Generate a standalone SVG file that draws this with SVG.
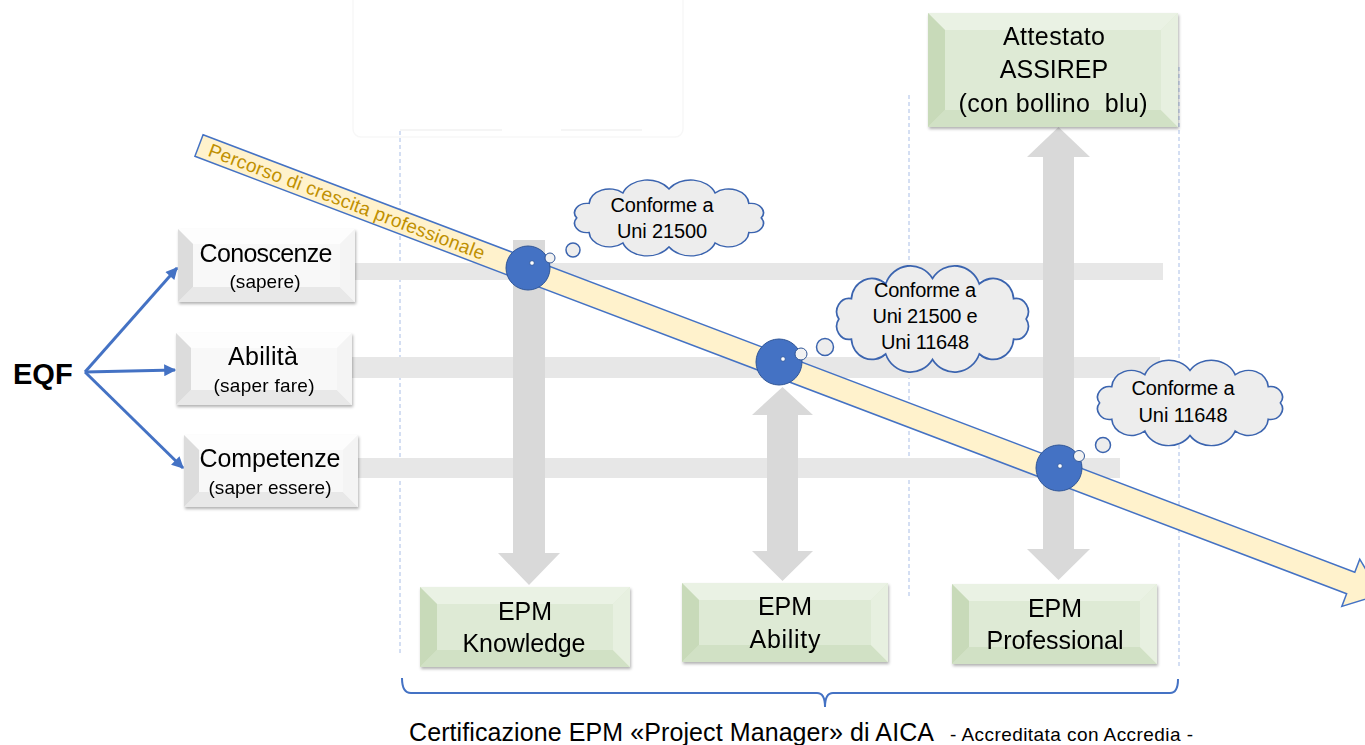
<svg xmlns="http://www.w3.org/2000/svg" width="1365" height="745" viewBox="0 0 1365 745">
<style>
text{font-family:"Liberation Sans",Arial,sans-serif;fill:#000}
.lbl{font-size:25px;text-anchor:middle}
.sub{font-size:19px;text-anchor:middle}
.cl{font-size:20px;text-anchor:middle}
.bar{fill:#E7E7E7}
.varr{fill:#D9D9D9}
.dash{stroke:#A9BEE6;stroke-width:1;stroke-dasharray:4 3;fill:none}
.gi{fill:#DEEAD5}.gt{fill:#EAF2E4}.gl{fill:#C8DAB9}.gr{fill:#E7F0E0}.gb{fill:#D1E1C5}
.wi{fill:#F8F8F8}.wt{fill:#FDFDFD}.wl{fill:#DCDCDC}.wr{fill:#F4F4F4}.wb{fill:#E8E8E8}
.cloud{fill:#EDEDED;stroke:#3B64AF;stroke-width:1.5;vector-effect:non-scaling-stroke}
.bub{fill:#EDEDED;stroke:#3B64AF;stroke-width:1.5}
.big{fill:#4472C4;stroke:#2F5597;stroke-width:1}
.sm{fill:#F2F2F2;stroke:#2F5597;stroke-width:1}
.blue{stroke:#4472C4;stroke-width:3;fill:none}
</style>
<defs>
<filter id="sh" x="-10%" y="-10%" width="125%" height="140%">
<feDropShadow dx="1" dy="2" stdDeviation="1.5" flood-color="#000" flood-opacity="0.3"/>
</filter>
<marker id="ah" viewBox="0 0 10 10" refX="9" refY="5" markerWidth="14" markerHeight="12" markerUnits="userSpaceOnUse" orient="auto">
<path d="M0,0 L10,5 L0,10 Z" fill="#4472C4"/>
</marker>
<path id="cloudShape" d="M182,50 A11,11 0 0 1 171,67 A18,18 0 0 1 141,79.4 A23,23 0 0 1 100,84 A23,23 0 0 1 59,79.4 A18,18 0 0 1 29,67 A11,11 0 0 1 18,50 A11,11 0 0 1 29,33 A18,18 0 0 1 59,20.6 A23,23 0 0 1 100,16 A23,23 0 0 1 141,20.6 A18,18 0 0 1 171,33 A11,11 0 0 1 182,50 Z"/>
</defs>

<rect width="1365" height="745" fill="#FFFFFF"/>

<!-- faint remnants at top -->
<g id="faint">
<rect x="353" y="-10" width="330" height="147" rx="8" fill="none" stroke="#F7F7F7" stroke-width="1.5"/>
<line x1="400" y1="130" x2="502" y2="130" stroke="#F2F2F2" stroke-width="1.5"/>
<line x1="561" y1="130" x2="642" y2="130" stroke="#F2F2F2" stroke-width="1.5"/>
</g>

<!-- dashed separators -->
<g id="separators">
<line class="dash" x1="400" y1="131" x2="400" y2="655"/>
<line class="dash" x1="909" y1="95" x2="909" y2="596"/>
<line class="dash" x1="1179" y1="67" x2="1179" y2="667"/>
</g>

<!-- horizontal bars -->
<g id="bars">
<rect class="bar" x="345" y="263" width="818" height="17"/>
<rect class="bar" x="345" y="357" width="815" height="21"/>
<rect class="bar" x="350" y="458" width="770" height="20"/>
</g>

<!-- vertical arrows -->
<g id="vertical-arrows">
<polygon class="varr" points="513,240 545,240 545,553 560,553 529,585 498,553 513,553"/>
<polygon class="varr" points="782.5,387 813,415 798,415 798,551 813,551 782.5,581 752,551 767,551 767,415 752,415"/>
<polygon class="varr" points="1058.5,127 1090,157 1074,157 1074,549 1090,549 1058.5,580 1027,549 1043,549 1043,157 1027,157"/>
</g>

<!-- connectors from EQF -->
<g id="connectors">
<line class="blue" x1="85" y1="372" x2="177" y2="268" marker-end="url(#ah)"/>
<line class="blue" x1="85" y1="372" x2="175" y2="370" marker-end="url(#ah)"/>
<line class="blue" x1="85" y1="372" x2="183" y2="468" marker-end="url(#ah)"/>
</g>

<g id="eqf"><text x="13" y="384" style="font-size:29px;font-weight:bold">EQF</text></g>

<!-- left white bevel boxes -->
<g id="conoscenze" filter="url(#sh)">
<rect class="wi" x="178" y="229" width="177" height="73"/>
<polygon class="wt" points="178,229 355,229 340,244 193,244"/>
<polygon class="wb" points="178,302 355,302 340,287 193,287"/>
<polygon class="wl" points="178,229 193,244 193,287 178,302"/>
<polygon class="wr" points="355,229 340,244 340,287 355,302"/>
<text class="lbl" x="266" y="262" textLength="133">Conoscenze</text>
<text class="sub" x="265" y="288" textLength="71">(sapere)</text>
</g>
<g id="abilita" filter="url(#sh)">
<rect class="wi" x="176" y="333" width="176" height="72"/>
<polygon class="wt" points="176,333 352,333 337,348 191,348"/>
<polygon class="wb" points="176,405 352,405 337,390 191,390"/>
<polygon class="wl" points="176,333 191,348 191,390 176,405"/>
<polygon class="wr" points="352,333 337,348 337,390 352,405"/>
<text class="lbl" x="263" y="365" textLength="70">Abilità</text>
<text class="sub" x="264" y="392" textLength="101">(saper fare)</text>
</g>
<g id="competenze" filter="url(#sh)">
<rect class="wi" x="184" y="435" width="174" height="72"/>
<polygon class="wt" points="184,435 358,435 343,450 199,450"/>
<polygon class="wb" points="184,507 358,507 343,492 199,492"/>
<polygon class="wl" points="184,435 199,450 199,492 184,507"/>
<polygon class="wr" points="358,435 343,450 343,492 358,507"/>
<text class="lbl" x="270" y="467" textLength="141">Competenze</text>
<text class="sub" x="270" y="494" textLength="123">(saper essere)</text>
</g>

<!-- diagonal growth path -->
<g id="percorso" transform="translate(199,145.5) rotate(20.8)">
<polygon points="0,-11.5 1232,-11.5 1232,-25.5 1264,0 1232,25 1232,11.5 0,11.5" fill="#FFF2CC" stroke="#4472C4" stroke-width="1.5" stroke-linejoin="miter"/>
<text x="11" y="6.5" textLength="294" style="font-size:19px;fill:#BF9000">Percorso di crescita professionale</text>
</g>

<!-- milestone circles -->
<g id="milestone1">
<circle class="big" cx="528" cy="268" r="22"/>
<circle cx="532" cy="263" r="2.3" fill="#FFFFFF" stroke="#2F5597" stroke-width="0.8"/>
<circle class="sm" cx="550" cy="258" r="5"/>
</g>
<g id="milestone2">
<circle class="big" cx="779" cy="362" r="23"/>
<circle cx="783" cy="359" r="2.3" fill="#FFFFFF" stroke="#2F5597" stroke-width="0.8"/>
<circle class="sm" cx="801" cy="354" r="6"/>
</g>
<g id="milestone3">
<circle class="big" cx="1059" cy="468" r="23"/>
<circle cx="1060" cy="466" r="2.3" fill="#FFFFFF" stroke="#2F5597" stroke-width="0.8"/>
<circle class="sm" cx="1079" cy="456" r="5.5"/>
</g>

<!-- clouds -->
<g id="cloud1">
<circle class="bub" cx="573" cy="250" r="7"/>
<use href="#cloudShape" class="cloud" transform="translate(556.5,175.4) scale(1.125,0.851)"/>
<text class="cl" x="662" y="212" textLength="103">Conforme a</text>
<text class="cl" x="662" y="238" textLength="90">Uni 21500</text>
</g>
<g id="cloud2">
<circle class="bub" cx="825" cy="347" r="8.5"/>
<use href="#cloudShape" class="cloud" transform="translate(818.3,259.4) scale(1.142,1.191)"/>
<text class="cl" x="925" y="297" textLength="102">Conforme a</text>
<text class="cl" x="925" y="323" textLength="105">Uni 21500 e</text>
<text class="cl" x="925" y="349" textLength="88">Uni 11648</text>
</g>
<g id="cloud3">
<circle class="bub" cx="1103" cy="445" r="7.5"/>
<use href="#cloudShape" class="cloud" transform="translate(1079.8,355.1) scale(1.102,0.957)"/>
<text class="cl" x="1183" y="395" textLength="103">Conforme a</text>
<text class="cl" x="1183" y="422" textLength="89">Uni 11648</text>
</g>

<!-- green bevel boxes -->
<g id="attestato" filter="url(#sh)">
<rect class="gi" x="928" y="13" width="250" height="114"/>
<polygon class="gt" points="928,13 1178,13 1161,30 945,30"/>
<polygon class="gb" points="928,127 1178,127 1161,110 945,110"/>
<polygon class="gl" points="928,13 945,30 945,110 928,127"/>
<polygon class="gr" points="1178,13 1161,30 1161,110 1178,127"/>
<text class="lbl" x="1054" y="45" textLength="102">Attestato</text>
<text class="lbl" x="1054" y="78">ASSIREP</text>
<text class="lbl" x="1053" y="112" textLength="189">(con bollino&#160; blu)</text>
</g>
<g id="epm-knowledge" filter="url(#sh)">
<rect class="gi" x="420" y="587" width="210" height="80"/>
<polygon class="gt" points="420,587 630,587 613,604 437,604"/>
<polygon class="gb" points="420,667 630,667 613,650 437,650"/>
<polygon class="gl" points="420,587 437,604 437,650 420,667"/>
<polygon class="gr" points="630,587 613,604 613,650 630,667"/>
<text class="lbl" x="525" y="620">EPM</text>
<text class="lbl" x="524" y="652" textLength="123">Knowledge</text>
</g>
<g id="epm-ability" filter="url(#sh)">
<rect class="gi" x="682" y="583" width="206" height="79"/>
<polygon class="gt" points="682,583 888,583 871,600 699,600"/>
<polygon class="gb" points="682,662 888,662 871,645 699,645"/>
<polygon class="gl" points="682,583 699,600 699,645 682,662"/>
<polygon class="gr" points="888,583 871,600 871,645 888,662"/>
<text class="lbl" x="785" y="615">EPM</text>
<text class="lbl" x="785" y="648" textLength="71">Ability</text>
</g>
<g id="epm-professional" filter="url(#sh)">
<rect class="gi" x="952" y="584" width="205" height="80"/>
<polygon class="gt" points="952,584 1157,584 1140,601 969,601"/>
<polygon class="gb" points="952,664 1157,664 1140,647 969,647"/>
<polygon class="gl" points="952,584 969,601 969,647 952,664"/>
<polygon class="gr" points="1157,584 1140,601 1140,647 1157,664"/>
<text class="lbl" x="1055" y="617">EPM</text>
<text class="lbl" x="1055" y="649" textLength="137">Professional</text>
</g>

<!-- bracket and caption -->
<g id="bracket">
<path d="M402,678 Q402,693 411,693 L817,693 Q825,693 825,707 Q825,693 833,693 L1170,693 Q1178,693 1178,679" fill="none" stroke="#4472C4" stroke-width="2"/>
</g>
<g id="caption">
<text x="409" y="741" textLength="525" style="font-size:25px">Certificazione EPM «Project Manager» di AICA</text>
<text x="950" y="741" textLength="243" style="font-size:19px">- Accreditata con Accredia -</text>
</g>
</svg>
